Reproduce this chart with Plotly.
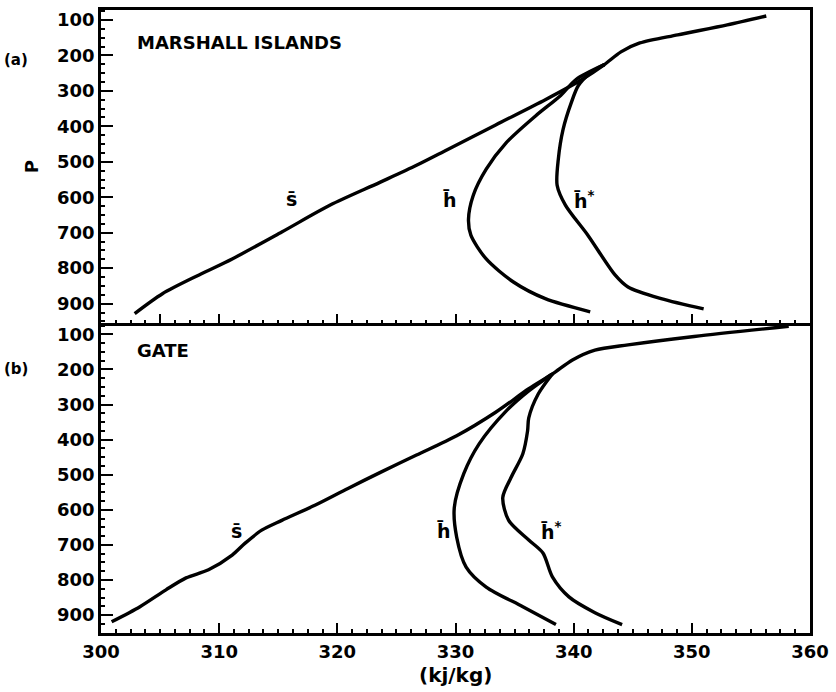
import plotly.graph_objects as go
from plotly.subplots import make_subplots

# ---- data ----
# (a) Marshall Islands
a_s_x = [302.85, 305.2, 308.3, 311.1, 315.3, 319.4, 323.6, 326.7, 329.3, 333.4, 337.6, 340.7, 342.6, 344.0, 345.6, 348.8, 353.0, 356.3]
a_s_p = [928, 872, 819, 774, 698, 622, 558, 510, 466, 396, 325, 268, 226, 190, 165, 142, 114, 89]
a_h_x = [342.6, 340.2, 338.9, 336.8, 334.3, 332.6, 331.5, 331.1, 331.3, 332.6, 334.9, 337.6, 341.4]
a_h_p = [226, 268, 313, 370, 446, 521, 595, 662, 707, 774, 839, 886, 923]
a_hs_x = [342.6, 341.4, 340.4, 339.8, 339.1, 338.7, 338.6, 339.3, 341.2, 343.5, 344.6, 347.4, 351.0]
a_hs_p = [226, 250, 285, 333, 409, 493, 566, 622, 707, 819, 853, 886, 915]

# (b) GATE
b_s_x = [300.9, 303.3, 305.5, 307.2, 309.1, 311.1, 312.2, 313.6, 315.3, 318.1, 320.9, 323.6, 326.7, 330.1, 333.4, 336.2, 338.2, 339.9, 341.8, 344.6, 350.2, 358.2]
b_s_p = [919, 876, 828, 794, 771, 729, 695, 658, 630, 587, 539, 494, 444, 389, 322, 255, 213, 173, 145, 130, 106, 77]
b_h_x = [338.2, 336.2, 334.3, 332.0, 330.7, 329.9, 330.1, 330.9, 332.6, 335.7, 338.5]
b_h_p = [213, 261, 318, 412, 497, 593, 678, 763, 820, 876, 927]
b_hs_x = [338.2, 337.0, 336.2, 336.1, 335.7, 334.7, 334.0, 334.5, 336.2, 337.4, 338.2, 339.6, 341.8, 344.1]
b_hs_p = [213, 270, 338, 375, 440, 508, 565, 630, 686, 723, 791, 848, 893, 927]

x_ticks = [300, 310, 320, 330, 340, 350, 360]
top_x_ticks = [305, 310, 320, 330, 340, 350]
p_ticks = [100, 200, 300, 400, 500, 600, 700, 800, 900]

FONT = "DejaVu Sans"
LW = 3.4

fig = make_subplots(rows=2, cols=1, shared_xaxes=False, vertical_spacing=0.0)

line_style = dict(color="black", width=LW, shape="spline", smoothing=0.8)
for (xs, ps) in [(a_s_x, a_s_p), (a_h_x, a_h_p), (a_hs_x, a_hs_p)]:
    fig.add_trace(go.Scatter(x=xs, y=ps, mode="lines", line=line_style,
                             showlegend=False, hoverinfo="skip"), row=1, col=1)
for (xs, ps) in [(b_s_x, b_s_p), (b_h_x, b_h_p), (b_hs_x, b_hs_p)]:
    fig.add_trace(go.Scatter(x=xs, y=ps, mode="lines", line=line_style,
                             showlegend=False, hoverinfo="skip"), row=2, col=1)

axis_common = dict(showline=True, linecolor="black", linewidth=2.8,
                   ticks="inside", tickcolor="black", tickwidth=2, showgrid=False, zeroline=False,
                   tickfont=dict(family=FONT, size=18, color="black", weight="bold"))
minor_x = dict(dtick=1.25, ticks="inside", ticklen=4, tickwidth=1.5, tickcolor="black")
minor_y = dict(dtick=25, ticks="inside", ticklen=4, tickwidth=1.5, tickcolor="black")

fig.update_xaxes(range=[300, 360], **axis_common)
fig.update_xaxes(row=1, col=1, mirror=True, tickvals=top_x_ticks, showticklabels=False, ticklen=10, minor=minor_x)
fig.update_xaxes(row=2, col=1, mirror=False, tickvals=x_ticks, ticktext=[str(v) for v in x_ticks], ticklen=10, minor=minor_x)

fig.update_yaxes(mirror=True, **axis_common)
fig.update_yaxes(row=1, col=1, range=[956, 72], tickvals=p_ticks, ticklen=12, minor=minor_y,
                 title=dict(text="P", font=dict(family=FONT, size=18, color="black", weight="bold"), standoff=14))
fig.update_yaxes(row=2, col=1, range=[951, 69], tickvals=p_ticks, ticklen=12, minor=minor_y)

# domains to match panel placement
fig.update_layout(yaxis=dict(domain=[0.4968, 1.0]), yaxis2=dict(domain=[0.0, 0.4968]))

W, H = 836, 692
ml, mr, mt, mb = 101, 19, 7, 59
pw, ph = W - ml - mr, H - mt - mb
def px2paper(px, py):
    return (px - ml) / pw, (H - mb - py) / ph

ann_font = dict(family=FONT, size=18, color="black", weight="bold")
lab_font = dict(family=FONT, size=19, color="black", weight="bold")
small_font = dict(family=FONT, size=15, color="black", weight="bold")
ax_, ay_ = px2paper(15, 57)
bx_, by_ = px2paper(15, 368)
annotations = [
    dict(x=302.85, y=165, xref="x", yref="y", text="MARSHALL ISLANDS", xanchor="left", yanchor="middle", showarrow=False, font=ann_font),
    dict(x=302.85, y=145, xref="x2", yref="y2", text="GATE", xanchor="left", yanchor="middle", showarrow=False, font=ann_font),
    dict(x=316.1, y=605, xref="x", yref="y", text="s\u0304", showarrow=False, font=lab_font),
    dict(x=329.5, y=608, xref="x", yref="y", text="h\u0304", showarrow=False, font=lab_font),
    dict(x=340.9, y=608, xref="x", yref="y", text="h\u0304<sup>*</sup>", showarrow=False, font=lab_font),
    dict(x=311.5, y=659, xref="x2", yref="y2", text="s\u0304", showarrow=False, font=lab_font),
    dict(x=329.0, y=659, xref="x2", yref="y2", text="h\u0304", showarrow=False, font=lab_font),
    dict(x=338.1, y=659, xref="x2", yref="y2", text="h\u0304<sup>*</sup>", showarrow=False, font=lab_font),
    dict(x=ax_, y=ay_, xref="paper", yref="paper", text="(a)", xanchor="center", yanchor="middle", showarrow=False, font=small_font),
    dict(x=bx_, y=by_, xref="paper", yref="paper", text="(b)", xanchor="center", yanchor="middle", showarrow=False, font=small_font),
    dict(x=0.5, y=0, xref="paper", yref="paper", text="(kj/kg)", xanchor="center", yanchor="top", yshift=-28,
         showarrow=False, font=dict(family=FONT, size=20, color="black", weight="bold")),
]

fig.update_layout(
    width=W, height=H,
    margin=dict(l=ml, r=mr, t=mt, b=mb),
    plot_bgcolor="white", paper_bgcolor="white",
    annotations=annotations,
    font=dict(family=FONT, color="black"),
)

fig.write_html("out.html")
